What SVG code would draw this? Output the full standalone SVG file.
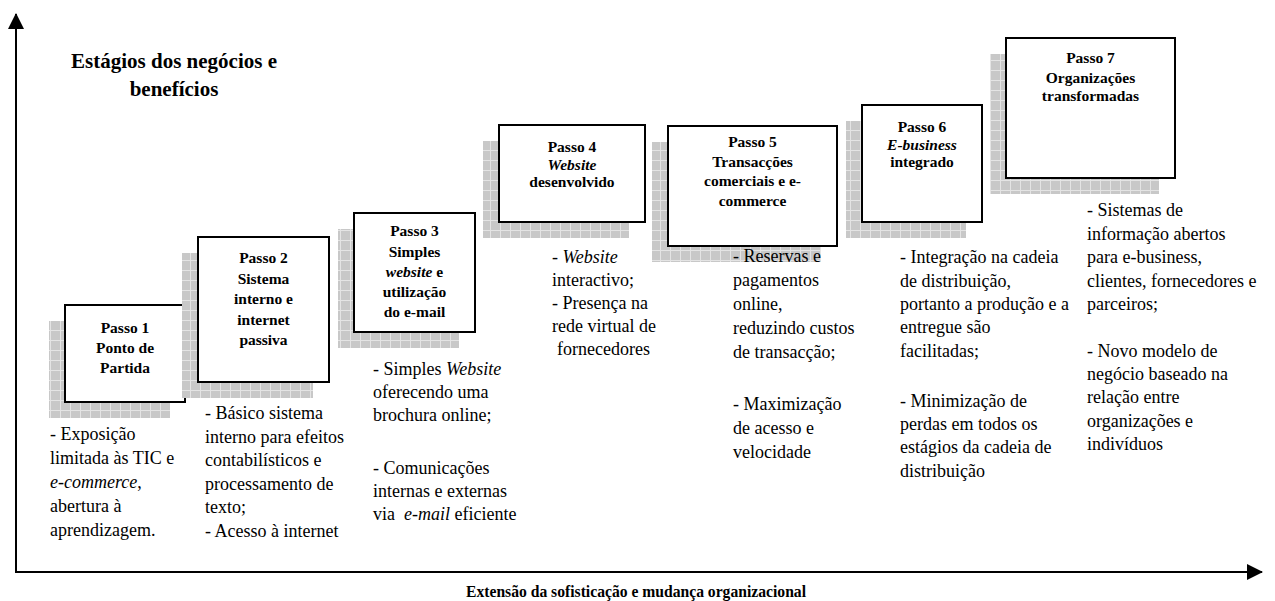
<svg xmlns="http://www.w3.org/2000/svg" width="1275" height="601" viewBox="0 0 1275 601">
<defs>
<pattern id="grid" width="10" height="10" patternUnits="userSpaceOnUse">
<rect width="10" height="10" fill="#c8c8c8"/>
<path d="M0 0.5H10M0.5 0V10" stroke="#e4e4e4" stroke-width="1"/>
</pattern>
<marker id="ahv" markerWidth="16" markerHeight="16" refX="15" refY="8" orient="auto" markerUnits="userSpaceOnUse">
<path d="M0 0L16 8L0 16Z" fill="#000"/>
</marker>
</defs>
<style>
.box{fill:#fff;stroke:#000;stroke-width:2}
.sh{fill:url(#grid)}
.bt{font-family:"Liberation Serif","Times New Roman",serif;font-weight:bold;font-size:15.5px;text-anchor:middle;fill:#000}
.dt{font-family:"Liberation Serif","Times New Roman",serif;font-size:18px;fill:#000}
.ttl{font-family:"Liberation Serif","Times New Roman",serif;font-weight:bold;font-size:21px;text-anchor:middle;fill:#000}
.it{font-style:italic}
.ax{stroke:#000;stroke-width:2;fill:none}
</style>

<g id="connectors">
<line class="ax" x1="16" y1="573" x2="16" y2="14" marker-end="url(#ahv)"/>
<line class="ax" x1="15" y1="572" x2="1262" y2="572" marker-end="url(#ahv)"/>
</g>

<g id="title">
<text class="ttl" x="174" y="68">Estágios dos negócios e</text>
<text class="ttl" x="174" y="96">benefícios</text>
</g>

<g id="xlabel">
<text x="636" y="597" font-family="'Liberation Serif','Times New Roman',serif" font-weight="bold" font-size="17" text-anchor="middle" textLength="340" lengthAdjust="spacingAndGlyphs">Extensão da sofisticação e mudança organizacional</text>
</g>

<g id="passo1">
<rect class="sh" x="49" y="321" width="121" height="97"/>
<rect class="box" x="65" y="305" width="120" height="97"/>
<text class="bt" x="125" y="333">Passo 1</text>
<text class="bt" x="125" y="353">Ponto de</text>
<text class="bt" x="125" y="373">Partida</text>
</g>

<g id="passo2">
<rect class="sh" x="182" y="253" width="131" height="145"/>
<rect class="box" x="198" y="237" width="131" height="145"/>
<text class="bt" x="263.5" y="263">Passo 2</text>
<text class="bt" x="263.5" y="284">Sistema</text>
<text class="bt" x="263.5" y="304">interno e</text>
<text class="bt" x="263.5" y="325">internet</text>
<text class="bt" x="263.5" y="345">passiva</text>
</g>

<g id="passo3">
<rect class="sh" x="338" y="229" width="121" height="119"/>
<rect class="box" x="354" y="213" width="121" height="119"/>
<text class="bt" x="414.5" y="236">Passo 3</text>
<text class="bt" x="414.5" y="256.5">Simples</text>
<text class="bt" x="414.5" y="277"><tspan class="it">website</tspan> e</text>
<text class="bt" x="414.5" y="297">utilização</text>
<text class="bt" x="414.5" y="317">do e-mail</text>
</g>

<g id="passo4">
<rect class="sh" x="483" y="141" width="146" height="97"/>
<rect class="box" x="499" y="125" width="146" height="97"/>
<text class="bt" x="572" y="152">Passo 4</text>
<text class="bt it" x="572" y="170">Website</text>
<text class="bt" x="572" y="187">desenvolvido</text>
</g>

<g id="passo5">
<rect class="sh" x="652" y="142" width="169" height="120"/>
<rect class="box" x="668" y="126" width="169" height="120"/>
<text class="bt" x="752.5" y="147">Passo 5</text>
<text class="bt" x="752.5" y="167">Transacções</text>
<text class="bt" x="752.5" y="186">comerciais e e-</text>
<text class="bt" x="752.5" y="206">commerce</text>
</g>

<g id="passo6">
<rect class="sh" x="846" y="121" width="120" height="117"/>
<rect class="box" x="862" y="105" width="120" height="117"/>
<text class="bt" x="922" y="132">Passo 6</text>
<text class="bt it" x="922" y="150">E-business</text>
<text class="bt" x="922" y="167">integrado</text>
</g>

<g id="passo7">
<rect class="sh" x="990" y="54" width="169" height="140"/>
<rect class="box" x="1006" y="38" width="169" height="140"/>
<text class="bt" x="1090.5" y="63">Passo 7</text>
<text class="bt" x="1090.5" y="83">Organizações</text>
<text class="bt" x="1090.5" y="101">transformadas</text>
</g>

<g id="desc1">
<text class="dt" x="50" y="440">- Exposição</text>
<text class="dt" x="50" y="464">limitada às TIC e</text>
<text class="dt" x="50" y="488"><tspan class="it">e-commerce</tspan>,</text>
<text class="dt" x="50" y="512">abertura à</text>
<text class="dt" x="50" y="536">aprendizagem.</text>
</g>

<g id="desc2">
<text class="dt" x="205" y="419">- Básico sistema</text>
<text class="dt" x="205" y="443">interno para efeitos</text>
<text class="dt" x="205" y="466">contabilísticos e</text>
<text class="dt" x="205" y="490">processamento de</text>
<text class="dt" x="205" y="513">texto;</text>
<text class="dt" x="205" y="537">- Acesso à internet</text>
</g>

<g id="desc3">
<text class="dt" x="373" y="375">- Simples <tspan class="it">Website</tspan></text>
<text class="dt" x="373" y="398">oferecendo uma</text>
<text class="dt" x="373" y="421">brochura online;</text>
<text class="dt" x="373" y="474">- Comunicações</text>
<text class="dt" x="373" y="497">internas e externas</text>
<text class="dt" x="373" y="520" xml:space="preserve">via  <tspan class="it">e-mail</tspan> eficiente</text>
</g>

<g id="desc4">
<text class="dt" x="552" y="263">- <tspan class="it">Website</tspan></text>
<text class="dt" x="552" y="286">interactivo;</text>
<text class="dt" x="552" y="309">- Presença na</text>
<text class="dt" x="552" y="332">rede virtual de</text>
<text class="dt" x="557" y="355">fornecedores</text>
</g>

<g id="desc5">
<text class="dt" x="733" y="262">- Reservas e</text>
<text class="dt" x="733" y="286">pagamentos</text>
<text class="dt" x="733" y="310">online,</text>
<text class="dt" x="733" y="334">reduzindo custos</text>
<text class="dt" x="733" y="358">de transacção;</text>
<text class="dt" x="733" y="410">- Maximização</text>
<text class="dt" x="733" y="434">de acesso e</text>
<text class="dt" x="733" y="458">velocidade</text>
</g>

<g id="desc6">
<text class="dt" x="900" y="263">- Integração na cadeia</text>
<text class="dt" x="900" y="287">de distribuição,</text>
<text class="dt" x="900" y="310">portanto a produção e a</text>
<text class="dt" x="900" y="333">entregue são</text>
<text class="dt" x="900" y="357">facilitadas;</text>
<text class="dt" x="900" y="407">- Minimização de</text>
<text class="dt" x="900" y="430">perdas em todos os</text>
<text class="dt" x="900" y="453">estágios da cadeia de</text>
<text class="dt" x="900" y="477">distribuição</text>
</g>

<g id="desc7">
<text class="dt" x="1087" y="216">- Sistemas de</text>
<text class="dt" x="1087" y="240">informação abertos</text>
<text class="dt" x="1087" y="263">para e-business,</text>
<text class="dt" x="1087" y="287">clientes, fornecedores e</text>
<text class="dt" x="1087" y="310">parceiros;</text>
<text class="dt" x="1087" y="357">- Novo modelo de</text>
<text class="dt" x="1087" y="380">negócio baseado na</text>
<text class="dt" x="1087" y="403">relação entre</text>
<text class="dt" x="1087" y="427">organizações e</text>
<text class="dt" x="1087" y="450">indivíduos</text>
</g>
</svg>
